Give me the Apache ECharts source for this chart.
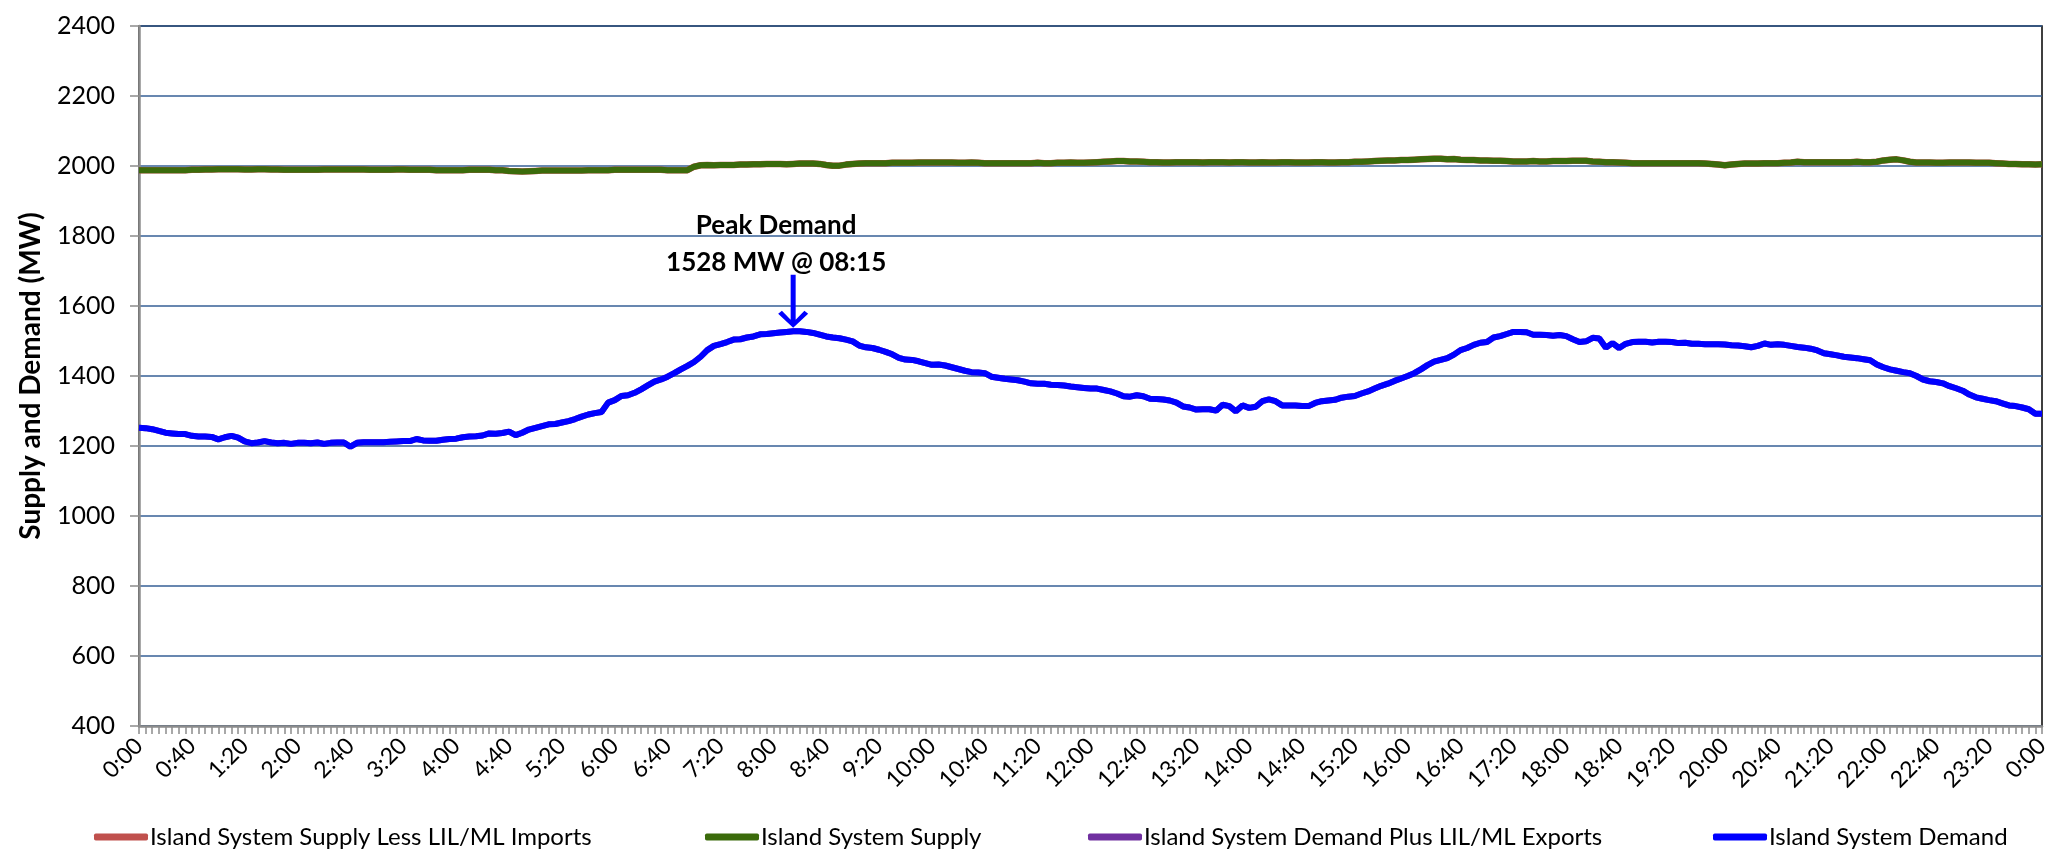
<!DOCTYPE html>
<html>
<head>
<meta charset="utf-8">
<title>Island System Supply and Demand</title>
<script src="https://cdn.jsdelivr.net/npm/echarts@6/dist/echarts.min.js"></script>
<style>
  html, body { margin: 0; padding: 0; background: #fff; }
  #chart { width: 2058px; height: 852px; }
</style>
</head>
<body>
<div id="chart"></div>
<script>
// 5-minute readings, 0:00 to 0:00 next day (289 points)
const times = []
for (let m = 0; m <= 24 * 60; m += 5) {
  const h = Math.floor(m / 60) % 24
  times.push(h + ':' + String(m % 60).padStart(2, '0'))
}

const islandSupply = [
  1988, 1988, 1988, 1988, 1988, 1988, 1988, 1988, 1989, 1989, 1990, 1990,
  1991, 1991, 1991, 1991, 1990, 1990, 1991, 1991, 1990, 1990, 1989, 1989,
  1989, 1989, 1989, 1989, 1990, 1990, 1990, 1990, 1990, 1990, 1990, 1989,
  1989, 1989, 1989, 1990, 1990, 1989, 1989, 1989, 1989, 1988, 1988, 1988,
  1988, 1988, 1989, 1989, 1989, 1989, 1988, 1988, 1986, 1985, 1984, 1985,
  1986, 1987, 1987, 1987, 1987, 1987, 1987, 1987, 1988, 1988, 1988, 1988,
  1989, 1989, 1989, 1989, 1989, 1989, 1989, 1989, 1988, 1988, 1988, 1988,
  1998, 2002, 2003, 2002, 2003, 2003, 2003, 2004, 2004, 2005, 2005, 2006,
  2006, 2006, 2005, 2006, 2007, 2007, 2007, 2006, 2003, 2001, 2001, 2004,
  2006, 2007, 2008, 2008, 2008, 2008, 2009, 2009, 2009, 2009, 2010, 2010,
  2010, 2010, 2010, 2010, 2009, 2009, 2010, 2009, 2008, 2008, 2008, 2008,
  2008, 2008, 2008, 2008, 2009, 2008, 2008, 2009, 2009, 2010, 2009, 2009,
  2010, 2011, 2012, 2013, 2014, 2014, 2013, 2013, 2012, 2011, 2011, 2010,
  2010, 2011, 2011, 2011, 2011, 2010, 2011, 2011, 2011, 2010, 2011, 2011,
  2010, 2010, 2011, 2010, 2010, 2011, 2011, 2010, 2010, 2010, 2011, 2011,
  2010, 2010, 2011, 2011, 2012, 2012, 2013, 2014, 2015, 2016, 2016, 2017,
  2017, 2018, 2019, 2020, 2021, 2021, 2019, 2020, 2018, 2017, 2017, 2016,
  2016, 2015, 2015, 2014, 2013, 2013, 2013, 2014, 2013, 2013, 2014, 2014,
  2014, 2015, 2015, 2015, 2013, 2012, 2011, 2011, 2010, 2009, 2008, 2008,
  2008, 2008, 2008, 2008, 2008, 2008, 2008, 2008, 2008, 2007, 2006, 2004,
  2002, 2004, 2006, 2007, 2007, 2007, 2008, 2008, 2008, 2009, 2010, 2012,
  2011, 2011, 2011, 2011, 2011, 2011, 2011, 2011, 2012, 2011, 2011, 2012,
  2016, 2018, 2019, 2016, 2012, 2010, 2010, 2010, 2009, 2009, 2010, 2010,
  2010, 2010, 2009, 2009, 2009, 2008, 2007, 2006, 2006, 2005, 2005, 2004, 2005
]

const islandDemand = [
  1252, 1251, 1248, 1243, 1238, 1236, 1234, 1234, 1229, 1227, 1227, 1226,
  1219, 1225, 1229, 1224, 1213, 1208, 1210, 1214, 1210, 1208, 1209, 1206,
  1209, 1209, 1208, 1210, 1206, 1209, 1210, 1210, 1198, 1209, 1211, 1211,
  1211, 1211, 1212, 1213, 1214, 1214, 1220, 1216, 1215, 1215, 1218, 1220,
  1221, 1225, 1227, 1228, 1230, 1236, 1235, 1237, 1241, 1231, 1238, 1247,
  1252, 1257, 1262, 1263, 1267, 1271, 1277, 1284, 1290, 1294, 1297, 1324,
  1331, 1343, 1345, 1352, 1362, 1373, 1384, 1390, 1398, 1408, 1419, 1429,
  1440, 1455, 1474, 1486, 1491, 1497, 1504, 1505, 1510, 1513, 1519, 1520,
  1522, 1524, 1526, 1528, 1528, 1526, 1523, 1518, 1513, 1510, 1508, 1504,
  1499, 1487, 1482, 1480, 1475, 1469, 1462, 1452, 1447, 1446, 1442, 1437,
  1432, 1433, 1430, 1425, 1420, 1415, 1411, 1410, 1408, 1398, 1395, 1392,
  1390, 1388, 1384, 1379, 1378, 1378, 1375, 1374, 1373, 1370, 1368, 1366,
  1364, 1364, 1360, 1356, 1350, 1342, 1341, 1345, 1342, 1335, 1334, 1333,
  1330, 1324, 1313, 1310, 1304, 1305, 1305, 1301, 1318, 1314, 1299, 1316,
  1309, 1312, 1328, 1333, 1328, 1316, 1316, 1316, 1314, 1314, 1323, 1328,
  1330, 1332, 1338, 1341, 1343, 1350, 1356, 1364, 1372, 1378, 1386, 1393,
  1400, 1408, 1419, 1431, 1441, 1446, 1451, 1461, 1474, 1480, 1489, 1495,
  1497, 1510, 1514, 1520, 1526, 1526, 1525, 1518, 1518, 1517, 1515, 1517,
  1514, 1505, 1497, 1499, 1509, 1507, 1481, 1494, 1480, 1492, 1497, 1498,
  1498, 1496, 1498, 1498, 1497, 1494, 1495, 1492, 1492, 1491, 1491, 1491,
  1490, 1488, 1487, 1485, 1482, 1486, 1493, 1489, 1491, 1489, 1486, 1483,
  1481, 1478, 1473, 1465, 1462, 1459, 1455, 1453, 1451, 1448, 1445, 1433,
  1425, 1419, 1415, 1411, 1408, 1400, 1390, 1385, 1383, 1379, 1371, 1365,
  1358, 1347, 1339, 1335, 1331, 1328, 1322, 1316, 1314, 1310, 1305, 1292, 1292
]

// no LIL/ML flows on this day, so these sit under supply and demand
const supplyLessImports = islandSupply
const demandPlusExports = islandDemand

const seriesNames = [
  'Island System Supply Less LIL/ML Imports',
  'Island System Supply',
  'Island System Demand Plus LIL/ML Exports',
  'Island System Demand'
]
const seriesColors = ['#c0504d', '#3b6b0b', '#7030a0', '#0000ff']
const legendLeft = [89, 700, 1083, 1708]

const peakValue = Math.max(...islandDemand)
const peakIdx = islandDemand.indexOf(peakValue)
const peakTime = times[peakIdx].padStart(5, '0')

const FONT = 'Lato, "Liberation Sans", sans-serif'

// arrow: shaft with an open V head, tip at the bottom
const arrowPath = 'path://M13,0 L17,0 L17,45 L24,36 L27,39 L15,53 L3,39 L6,36 L13,45 Z'

const chart = echarts.init(document.getElementById('chart'))

const lineSeries = (i, data, width, z) => ({
  name: seriesNames[i],
  type: 'line',
  data: data,
  color: seriesColors[i],
  showSymbol: false,
  symbol: 'none',
  lineStyle: { width: width, color: seriesColors[i] },
  z: z
})

const demandSeries = lineSeries(3, islandDemand, 6, 4)
demandSeries.markPoint = {
  silent: true,
  symbol: arrowPath,
  symbolSize: [30, 53],
  symbolOffset: [0, -30],
  itemStyle: { color: '#0000ff' },
  label: {
    show: true,
    position: 'top',
    distance: -6,
    offset: [-17, 0],
    color: '#000',
    fontSize: 26,
    fontWeight: 'bold',
    lineHeight: 37,
    fontFamily: FONT,
    formatter: 'Peak Demand\n' + peakValue + ' MW @ ' + peakTime
  },
  data: [{ coord: [peakIdx, peakValue] }]
}

chart.setOption({
  backgroundColor: '#fff',
  animation: false,
  textStyle: { fontFamily: FONT },
  grid: {
    left: 139, right: 16, top: 26, bottom: 126,
    show: true, borderColor: '#000', borderWidth: 1.5
  },
  legend: legendLeft.map((x, i) => ({
    data: [seriesNames[i]],
    left: x,
    top: 820,
    icon: 'roundRect',
    itemWidth: 54,
    itemHeight: 7,
    itemGap: 0,
    textStyle: { fontFamily: FONT, fontSize: 24, color: '#000', padding: [0, 0, 0, -3] }
  })),
  xAxis: {
    type: 'category',
    data: times,
    boundaryGap: false,
    axisLine: { lineStyle: { color: '#8c8c8c', width: 2.5 } },
    axisTick: { show: true, interval: 0, length: 8, lineStyle: { color: '#8c8c8c', width: 1.5 } },
    axisLabel: {
      interval: 7,
      rotate: 45,
      margin: 16,
      fontSize: 23,
      color: '#000',
      fontFamily: FONT
    },
    splitLine: { show: false }
  },
  yAxis: {
    type: 'value',
    min: 400,
    max: 2400,
    interval: 200,
    name: 'Supply and Demand (MW)',
    nameLocation: 'middle',
    nameGap: 94,
    nameTextStyle: { fontSize: 28, fontWeight: 'bold', color: '#000', fontFamily: FONT },
    axisLine: { show: true, lineStyle: { color: '#8c8c8c', width: 2.5 } },
    axisTick: { show: true, length: 9, lineStyle: { color: '#8c8c8c', width: 1.5 } },
    axisLabel: {
      margin: 24,
      fontSize: 25,
      color: '#000',
      fontFamily: FONT,
      formatter: (v) => String(v)
    },
    splitLine: { lineStyle: { color: '#365f96', width: 1.5 } }
  },
  series: [
    lineSeries(0, supplyLessImports, 6.5, 2),
    lineSeries(1, islandSupply, 6, 3),
    lineSeries(2, demandPlusExports, 6, 2),
    demandSeries
  ]
})
</script>
</body>
</html>
